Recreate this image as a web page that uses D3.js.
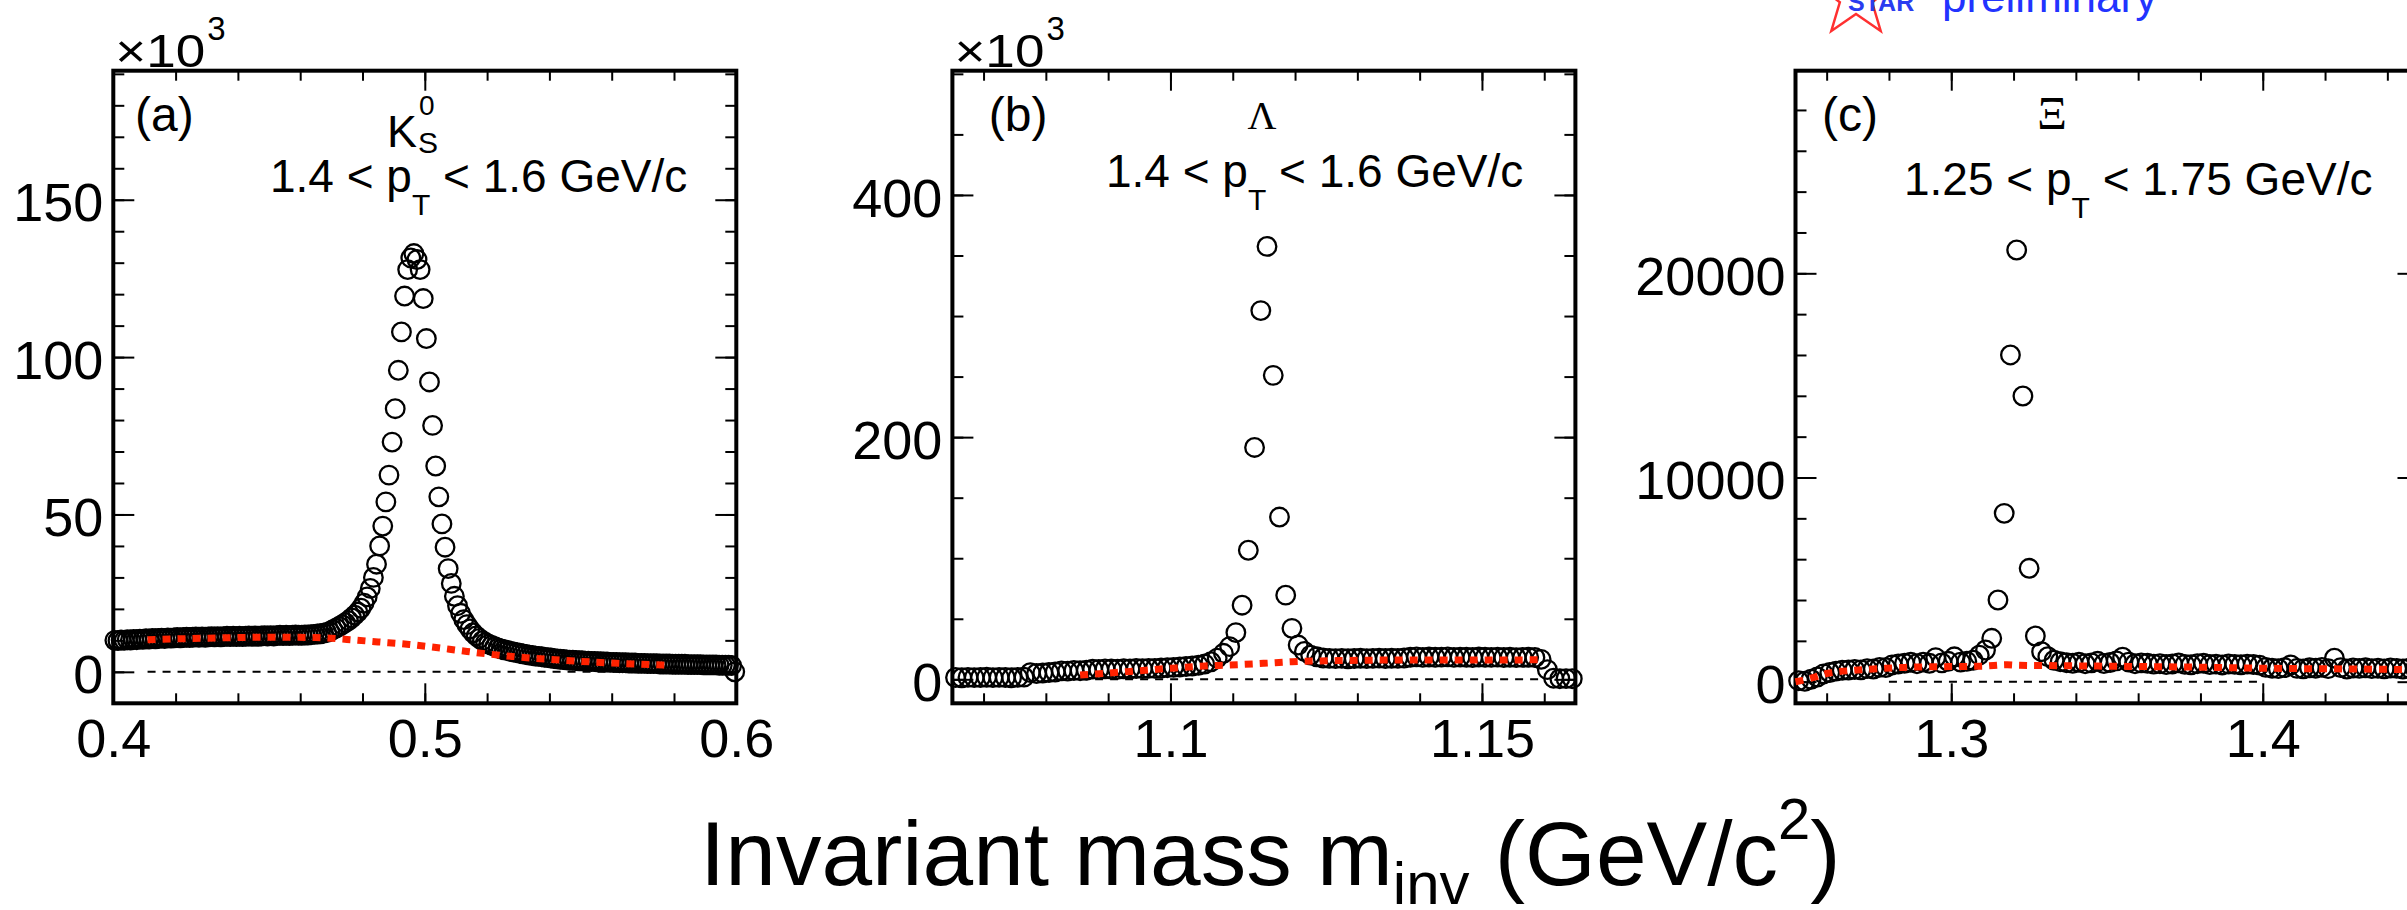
<!DOCTYPE html>
<html>
<head>
<meta charset="utf-8">
<script src="https://cdn.jsdelivr.net/npm/d3@7"></script>
<style>
  body { margin: 0; background: #fff; }
  svg { display: block; font-family: "Liberation Sans", Arial, Helvetica, sans-serif; }
</style>
</head>
<body>
<svg id="chart" width="2407" height="910"></svg>
<script>
// ---- K0S panel (counts in units of 10^3), 200 bins of 0.001 in [0.4, 0.6]
var k0sBins = [0.4, 0.6, 200];
var k0sCounts = [
  10.0, 9.9, 10.1, 10.0, 10.2, 10.1, 10.3, 10.2, 10.4, 10.3,
  10.5, 10.4, 10.6, 10.5, 10.6, 10.7, 10.6, 10.8, 10.7, 10.8,
  10.9, 10.8, 10.9, 11.0, 10.9, 11.0, 11.1, 11.0, 11.1, 11.0,
  11.1, 11.2, 11.1, 11.2, 11.1, 11.2, 11.3, 11.2, 11.3, 11.2,
  11.3, 11.2, 11.3, 11.4, 11.3, 11.4, 11.3, 11.4, 11.5, 11.4,
  11.5, 11.4, 11.5, 11.6, 11.5, 11.6, 11.5, 11.6, 11.7, 11.6,
  11.6, 11.7, 11.7, 11.8, 11.9, 12.0, 12.1, 12.3, 12.5, 12.8,
  13.4, 13.9, 14.4, 15.0, 15.6, 16.3, 17.1, 18.0, 19.0, 20.2,
  21.8, 23.8, 26.5, 30.0, 34.2, 40.0, 46.3, 54.0, 62.5, 73.0,
  83.6, 95.8, 108.0, 119.4, 127.8, 131.5, 132.9, 131.0, 127.8, 118.6,
  105.9, 92.1, 78.3, 65.4, 55.6, 47.0, 39.6, 32.8, 28.1, 24.0,
  21.0, 18.6, 16.6, 15.0, 13.6, 12.4, 11.4, 10.6, 9.9, 9.3,
  8.8, 8.4, 8.0, 7.6, 7.3, 7.0, 6.8, 6.5, 6.3, 6.1,
  5.9, 5.7, 5.5, 5.3, 5.2, 5.0, 4.9, 4.8, 4.6, 4.5,
  4.4, 4.2, 4.1, 4.0, 3.9, 3.8, 3.7, 3.7, 3.6, 3.5,
  3.5, 3.4, 3.4, 3.3, 3.3, 3.2, 3.2, 3.1, 3.1, 3.0,
  3.0, 3.0, 2.9, 2.9, 2.9, 2.8, 2.8, 2.8, 2.7, 2.7,
  2.7, 2.6, 2.6, 2.6, 2.6, 2.5, 2.5, 2.5, 2.5, 2.4,
  2.4, 2.4, 2.4, 2.4, 2.3, 2.3, 2.3, 2.3, 2.3, 2.2,
  2.2, 2.2, 2.2, 2.2, 2.1, 2.1, 2.1, 2.1, 2.0, 0.0
];
var k0sFitX = [0.411, 0.43, 0.45, 0.465, 0.475, 0.485, 0.495, 0.503, 0.511, 0.52, 0.528, 0.544, 0.56, 0.5774];
var k0sFitY = [10.2, 10.7, 11.0, 10.9, 10.3, 9.5, 8.7, 7.8, 6.8, 5.7, 4.9, 3.7, 2.8, 2.1];
var k0sZero = [0.411, 0.5774];
var k0sXTicks = [0.4, 0.5, 0.6];
var k0sYTicks = [0, 50, 100, 150];

// ---- Lambda panel (units of 10^3), 100 bins of 0.001 in [1.065, 1.165]
var lamBins = [1.065, 1.165, 100];
var lamCounts = [
  1.5, 1.3, 1.6, 1.4, 1.5, 1.7, 1.4, 1.6, 1.5, 1.3, 1.6, 1.8,
  5.5, 4.8, 5.2, 5.6, 6.0, 7.0, 6.8, 7.3, 7.1, 7.5,
  8.4, 8.2, 8.6, 8.5, 8.3, 8.7, 8.6, 8.9, 8.8, 9.0,
  9.0, 9.3, 9.6, 9.9, 10.2, 10.6, 11.0, 11.6, 12.6, 14.5,
  17.5, 21.5, 27.0, 38.6, 61.2, 106.6, 191.5, 304.5, 357.5, 251.0,
  134.0, 69.5, 42.1, 28.3, 23.0, 20.0, 18.6, 17.6, 17.3, 17.1,
  17.3, 17.0, 17.2, 17.4, 17.1, 17.3, 17.5, 17.2, 17.4, 17.3,
  17.6, 18.2, 18.5, 18.1, 18.4, 18.2, 18.3, 18.5, 18.1, 18.3,
  18.2, 18.0, 18.4, 18.2, 18.1, 18.3, 18.0, 18.2, 17.9, 18.1,
  18.2, 18.0, 16.5, 8.0, 0.9, 0.5, 0.6, 0.5
];
var lamFitX = [1.0855, 1.093, 1.1, 1.1055, 1.1095, 1.115, 1.1195, 1.126, 1.136, 1.15, 1.16];
var lamFitY = [3.5, 6.3, 9.1, 11.0, 11.8, 13.2, 14.5, 15.4, 15.9, 15.9, 16.2];
var lamZero = [1.0855, 1.16];
var lamXTicks = [1.1, 1.15];
var lamYTicks = [0, 200, 400];

// ---- Xi panel (raw counts), 100 bins of 0.002 in [1.25, 1.45]
var xiBins = [1.25, 1.45, 100];
var xiCounts = [
  50, 20, 120, 230,
  380, 450, 520, 560,
  570, 600, 580, 640, 620, 700, 690,
  820, 870, 900, 950, 880, 960, 900, 1180, 920, 1000, 1220, 960, 1000, 1050,
  1300, 1552, 2125, 4001, 8245, 16000, 21141, 13991, 5553, 2238, 1469, 1225,
  1050, 980, 930, 900, 950, 880, 920, 1000, 890, 940, 1020, 1200, 960, 880, 920,
  900, 860, 880, 840, 870, 920, 850, 830, 880, 900, 840, 860, 820, 870, 850, 830, 860, 840, 810,
  700, 660, 640, 690, 820, 650, 630, 680, 660, 700, 640, 1150, 690, 620, 670, 650, 680, 640, 660, 630, 670, 650, 620, 660, 640
];
var xiFitX = [1.25, 1.255, 1.26, 1.27, 1.285, 1.30, 1.31, 1.318, 1.322, 1.33, 1.35, 1.38, 1.40, 1.43, 1.45];
var xiFitY = [0, 170, 400, 570, 700, 740, 760, 830, 800, 790, 760, 710, 660, 620, 590];
var xiZero = [1.28, 1.40];
var xiXTicks = [1.3, 1.4];
var xiYTicks = [0, 10000, 20000];

// ---- layout
var svg = d3.select("#chart");
var frameTop = 70.7, frameBottom = 703.3, frameWidth = 623;
var fitColor = "#ff2200";

var panels = [
  {name: "a", left: 113.3, xDomain: [0.4, 0.6], yDomain: [-10, 191], xMinorStep: 0.02, yMinorStep: 10,
   bins: k0sBins, counts: k0sCounts, fitX: k0sFitX, fitY: k0sFitY, zero: k0sZero,
   xTicks: k0sXTicks, yTicks: k0sYTicks, exponent: true},
  {name: "b", left: 952.4, xDomain: [1.065, 1.165], yDomain: [-19.8, 502.6], xMinorStep: 0.01, yMinorStep: 50,
   bins: lamBins, counts: lamCounts, fitX: lamFitX, fitY: lamFitY, zero: lamZero,
   xTicks: lamXTicks, yTicks: lamYTicks, exponent: true},
  {name: "c", left: 1795.5, xDomain: [1.25, 1.45], yDomain: [-1058, 29922], xMinorStep: 0.02, yMinorStep: 2000,
   bins: xiBins, counts: xiCounts, fitX: xiFitX, fitY: xiFitY, zero: xiZero,
   xTicks: xiXTicks, yTicks: xiYTicks, exponent: false}
];

function stepTicks(domain, step) {
  var lo = Math.ceil(domain[0] / step - 1e-9), hi = Math.floor(domain[1] / step + 1e-9);
  return d3.range(lo, hi + 1).map(function (k) { return +(k * step).toFixed(6); });
}

function styleAxis(sel, fontSize) {
  sel.select(".domain").remove();
  sel.selectAll(".tick line").attr("stroke", "#000").attr("stroke-width", 2);
  sel.selectAll(".tick text")
    .attr("fill", "#000")
    .attr("font-size", fontSize)
    .attr("font-family", "'Liberation Sans', Arial, Helvetica, sans-serif");
}

function drawPanel(p) {
  var x = d3.scaleLinear().domain(p.xDomain).range([p.left, p.left + frameWidth]);
  var y = d3.scaleLinear().domain(p.yDomain).range([frameBottom, frameTop]);
  var g = svg.append("g").attr("class", "panel-" + p.name);

  var xMinor = stepTicks(p.xDomain, p.xMinorStep);
  var yMinor = stepTicks(p.yDomain, p.yMinorStep);
  var fmt = function (d) { return String(d); };

  // bottom / top
  g.append("g").attr("transform", "translate(0," + frameBottom + ")")
    .call(d3.axisBottom(x).tickValues(xMinor).tickSize(-10).tickFormat(""))
    .call(styleAxis, 0);
  g.append("g").attr("transform", "translate(0," + frameBottom + ")")
    .call(d3.axisBottom(x).tickValues(p.xTicks).tickSize(-20).tickPadding(15).tickFormat(fmt))
    .call(styleAxis, 54);
  g.append("g").attr("transform", "translate(0," + frameTop + ")")
    .call(d3.axisTop(x).tickValues(xMinor).tickSize(-10).tickFormat(""))
    .call(styleAxis, 0);
  g.append("g").attr("transform", "translate(0," + frameTop + ")")
    .call(d3.axisTop(x).tickValues(p.xTicks).tickSize(-20).tickFormat(""))
    .call(styleAxis, 0);

  // left / right
  g.append("g").attr("transform", "translate(" + p.left + ",0)")
    .call(d3.axisLeft(y).tickValues(yMinor).tickSize(-11).tickFormat(""))
    .call(styleAxis, 0);
  var yl = g.append("g").attr("transform", "translate(" + p.left + ",0)")
    .call(d3.axisLeft(y).tickValues(p.yTicks).tickSize(-21).tickPadding(10).tickFormat(fmt))
    .call(styleAxis, 54);
  yl.selectAll(".tick text").attr("dy", "0.39em");
  g.append("g").attr("transform", "translate(" + (p.left + frameWidth) + ",0)")
    .call(d3.axisRight(y).tickValues(yMinor).tickSize(-11).tickFormat(""))
    .call(styleAxis, 0);
  g.append("g").attr("transform", "translate(" + (p.left + frameWidth) + ",0)")
    .call(d3.axisRight(y).tickValues(p.yTicks).tickSize(-21).tickFormat(""))
    .call(styleAxis, 0);

  // frame
  g.append("rect")
    .attr("x", p.left).attr("y", frameTop)
    .attr("width", frameWidth).attr("height", frameBottom - frameTop)
    .attr("fill", "none").attr("stroke", "#000").attr("stroke-width", 4);

  // zero line
  g.append("line")
    .attr("x1", x(p.zero[0])).attr("x2", x(p.zero[1]))
    .attr("y1", y(0)).attr("y2", y(0))
    .attr("stroke", "#000").attr("stroke-width", 2)
    .attr("stroke-dasharray", "8,7");

  // open circle markers at bin centres
  var binWidth = (p.bins[1] - p.bins[0]) / p.bins[2];
  g.append("g").selectAll("circle")
    .data(p.counts)
    .join("circle")
    .attr("cx", function (d, i) { return x(p.bins[0] + (i + 0.5) * binWidth); })
    .attr("cy", function (d) { return y(d); })
    .attr("r", 9.3)
    .attr("fill", "none")
    .attr("stroke", "#000")
    .attr("stroke-width", 2.3);

  // background fit
  var line = d3.line()
    .x(function (d) { return x(d[0]); })
    .y(function (d) { return y(d[1]); })
    .curve(d3.curveMonotoneX);
  g.append("path")
    .datum(d3.zip(p.fitX, p.fitY))
    .attr("d", line)
    .attr("fill", "none")
    .attr("stroke", fitColor)
    .attr("stroke-width", 7)
    .attr("stroke-dasharray", "8,7");

  if (p.exponent) {
    g.append("text")
      .attr("x", p.left + 2).attr("y", 66.7)
      .attr("font-size", 46)
      .attr("textLength", 90).attr("lengthAdjust", "spacingAndGlyphs")
      .text("\u00d710");
    g.append("text")
      .attr("x", p.left + 94).attr("y", 40)
      .attr("font-size", 33)
      .text("3");
  }
}

panels.forEach(drawPanel);

// text with sub/superscript parts; a part may carry an absolute x/y
function richText(x, y, size, parts, opts) {
  opts = opts || {};
  var t = svg.append("text")
    .attr("x", x).attr("y", y)
    .attr("font-size", size)
    .attr("fill", opts.fill || "#000")
    .attr("text-anchor", opts.anchor || "start");
  if (opts.family) t.attr("font-family", opts.family);
  if (opts.weight) t.attr("font-weight", opts.weight);
  parts.forEach(function (part) {
    var s = t.append("tspan")
      .attr("font-size", part.size || size)
      .text(part.t);
    if (part.x != null) s.attr("x", part.x);
    if (part.y != null) s.attr("y", part.y);
    else s.attr("dy", part.dy || 0);
  });
  return t;
}

var serif = "'Liberation Serif', 'DejaVu Serif', 'Times New Roman', serif";

// panel labels
richText(135, 131, 48, [{t: "(a)"}]);
richText(988.8, 131, 48, [{t: "(b)"}]);
richText(1822, 131, 48, [{t: "(c)"}]);

// particle names
richText(387, 147, 45, [{t: "K"}, {t: "S", size: 30, x: 418, y: 153}, {t: "0", size: 28, x: 419, y: 115}]);
richText(1262, 129, 40, [{t: "\u039b"}], {anchor: "middle", family: serif});
richText(2052, 129, 46, [{t: "\u039e"}], {anchor: "middle", family: serif});

// pT ranges
richText(270, 191.7, 46, [{t: "1.4 < p"}, {t: "T", size: 30, dy: 23}, {t: " < 1.6 GeV/c", size: 46, dy: -23}]);
richText(1106, 186.7, 46, [{t: "1.4 < p"}, {t: "T", size: 30, dy: 23}, {t: " < 1.6 GeV/c", size: 46, dy: -23}]);
richText(1904, 195, 46, [{t: "1.25 < p"}, {t: "T", size: 30, dy: 23}, {t: " < 1.75 GeV/c", size: 46, dy: -23}]);

// STAR preliminary logo (cut at the top edge)
var starCx = 1856, starCy = -3, starR = 42, starr = 17;
var starPts = d3.range(10).map(function (k) {
  var a = -Math.PI / 2 + k * Math.PI / 5, rr = k % 2 ? starr : starR;
  return [starCx + rr * Math.cos(a), starCy + rr * Math.sin(a)];
});
svg.append("polygon")
  .attr("points", starPts.map(function (d) { return d.join(","); }).join(" "))
  .attr("fill", "none").attr("stroke", "#ff3030").attr("stroke-width", 2.5);
richText(1848, 11, 25, [{t: "STAR"}], {fill: "#2a3cf0", weight: "bold"});
richText(1942, 12, 44, [{t: "preliminary"}], {fill: "#2233ff"});

// common x title
richText(700, 885, 91, [
  {t: "Invariant mass m"},
  {t: "inv", size: 60, dy: 19},
  {t: " (GeV/c", size: 91, dy: -19},
  {t: "2", size: 58, dy: -46},
  {t: ")", size: 91, dy: 46}
]);
</script>
</body>
</html>
